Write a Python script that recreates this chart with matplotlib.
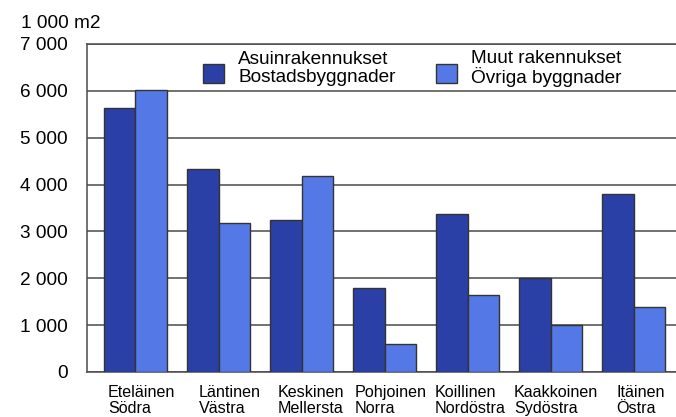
import matplotlib.pyplot as plt
from matplotlib.patches import Patch, Rectangle
from matplotlib.legend_handler import HandlerPatch
import numpy as np

plt.rcParams['font.family'] = ['Liberation Sans', 'DejaVu Sans']

# Floor area by district, 1 000 m2
districts = ["Eteläinen\nSödra", "Läntinen\nVästra", "Keskinen\nMellersta",
             "Pohjoinen\nNorra", "Koillinen\nNordöstra", "Kaakkoinen\nSydöstra",
             "Itäinen\nÖstra"]
residential = [5640, 4340, 3240, 1790, 3370, 2010, 3800]
other = [6020, 3180, 4190, 600, 1640, 1000, 1390]
label_res = "Asuinrakennukset\nBostadsbyggnader"
label_other = "Muut rakennukset\nÖvriga byggnader"
yticks = [0, 1000, 2000, 3000, 4000, 5000, 6000, 7000]

# left edges of the category labels (data units)
label_x = [-0.33, 0.76, 1.71, 2.645, 3.60, 4.56, 5.79]

dark = '#2b40a6'
light = '#5479e6'
edge = '#333333'
grid = '#4a4a4a'


def lowered_box(legend, orig_handle, xdescent, ydescent, width, height, fontsize):
    # legend square sits a bit below the centre of its two-line label
    return Rectangle((-xdescent, -ydescent - 3.5), width, height)


fig = plt.figure(figsize=(6.76, 4.17), dpi=100)
ax = fig.add_axes([87 / 676, 1 - 372 / 417, 1 - 87 / 676, (372 - 44) / 417])

x = np.arange(len(districts))
w = 0.38
ax.bar(x - w / 2, residential, w, color=dark, edgecolor=edge, linewidth=1.0, zorder=3)
ax.bar(x + w / 2, other, w, color=light, edgecolor=edge, linewidth=1.0, zorder=3)

ax.set_ylim(0, 7000)
ax.set_xlim(-0.584, 6.51)
ax.set_yticks(yticks)
ax.set_yticklabels([f"{v:,}".replace(",", " ") for v in yticks], fontsize=13.7)
ax.tick_params(axis='y', length=0, pad=14)
ax.yaxis.grid(True, color=grid, linewidth=1.1, zorder=1)
ax.set_axisbelow(True)

ax.set_xticks(label_x)
ax.set_xticklabels(districts, fontsize=11.6, ha='left', linespacing=1.08)
ax.tick_params(axis='x', length=0, pad=9.5)

for s in ['left', 'top', 'bottom']:
    ax.spines[s].set_color(grid)
    ax.spines[s].set_linewidth(1.1)
ax.spines['right'].set_visible(False)

fig.text(21 / 676, 1 - 23 / 417, "1 000 m2", fontsize=13.7, va='center', ha='left')

handles = [Patch(facecolor=dark, edgecolor=edge, linewidth=1.0),
           Patch(facecolor=light, edgecolor=edge, linewidth=1.0)]
leg = ax.legend(handles, [label_res, label_other], ncol=2, frameon=False,
                loc='upper left', bbox_to_anchor=(203 / 676, 1 - 50 / 417),
                bbox_transform=fig.transFigure, borderpad=0, borderaxespad=0,
                handlelength=1.1, handleheight=1.1, handletextpad=0.74,
                columnspacing=2.15, fontsize=13.7, labelspacing=0.2,
                handler_map={Patch: HandlerPatch(patch_func=lowered_box)})
for t in leg.get_texts():
    t.set_linespacing(1.0)

fig.savefig('out.png', dpi=100)
